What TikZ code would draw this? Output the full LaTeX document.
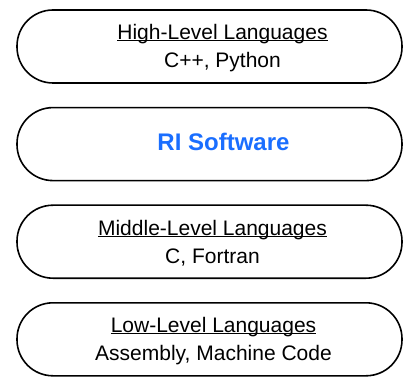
\documentclass[tikz,border=0pt]{standalone}
\usepackage{fontspec}
\setmainfont{Liberation Sans}
\usetikzlibrary{positioning}
\definecolor{riblue}{RGB}{26,110,255}
\newcommand\lvlul[1]{\setbox0\hbox{#1}\rlap{\rule[-1.3pt]{\wd0}{0.9pt}}\box0}
\begin{document}
\begin{tikzpicture}[x=1pt, y=1pt,
  level/.style={draw, line width=1.6pt, rounded corners=36pt, minimum width=385pt,
    minimum height=73pt, inner sep=0pt},
  lvltext/.style={align=center, inner sep=0pt, yshift=-1.5pt, font=\fontsize{21}{28}\selectfont},
  node distance=23pt]
  \useasboundingbox (0,0) rectangle (409,-379);
  \node[level, label={[lvltext, xshift=13pt]center:{\lvlul{High-Level Languages}\\C++, Python}}] (high) at (209.5,-46.5) {};
  \node[level, below=of high, label={[lvltext, xshift=14pt, yshift=4pt, text=riblue,
    font=\fontsize{24}{28}\selectfont\bfseries]center:RI Software}] (ri) {};
  \node[level, below=of ri, label={[lvltext, xshift=3pt]center:{\lvlul{Middle-Level Languages}\\C, Fortran}}] (mid) {};
  \node[level, below=of mid, label={[lvltext, xshift=4pt]center:{\lvlul{Low-Level Languages}\\Assembly, Machine Code}}] (low) {};
\end{tikzpicture}
\end{document}
